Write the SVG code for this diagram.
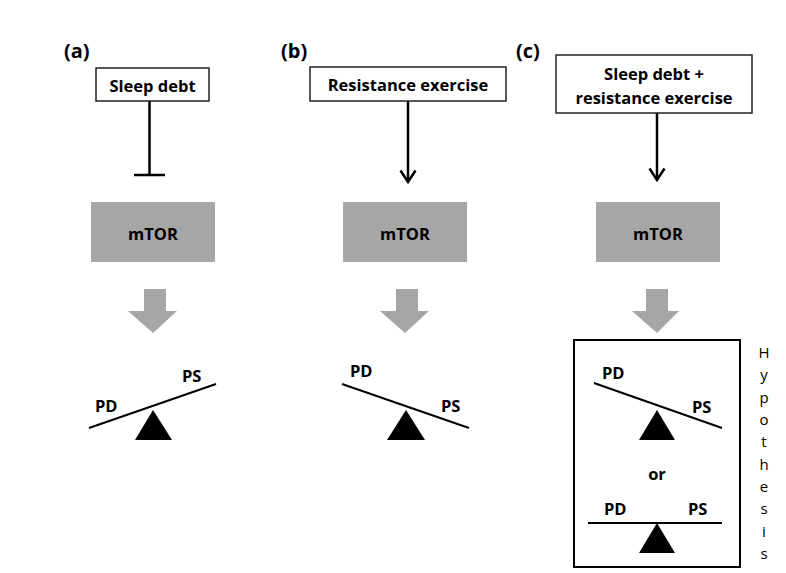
<svg xmlns="http://www.w3.org/2000/svg" width="786" height="573" viewBox="0 0 786 573">
<defs>
<style>
.lbl{font-family:"Open Sans","Liberation Sans",sans-serif;font-weight:bold;fill:#000}
.pl{font-size:20px}
.bx{fill:#fff;stroke:#222;stroke-width:1.5}
.bt{font-size:16.5px;text-anchor:middle}
.mt{fill:#a6a6a6}
.mtt{font-size:16.5px;text-anchor:middle}
.fa{fill:#a6a6a6}
.ln{stroke:#000;stroke-width:2.5;fill:none}
.bm{stroke:#000;stroke-width:2;fill:none}
.tri{fill:#000}
.sl{font-size:16.5px}
.hy{font-family:"Open Sans","Liberation Sans",sans-serif;font-size:15px;text-anchor:middle;fill:#000}
</style>
</defs>
<rect width="786" height="573" fill="#fff"/>
<g id="labels">
<text class="lbl pl" x="64" y="58">(a)</text>
<text class="lbl pl" x="281" y="58">(b)</text>
<text class="lbl pl" x="516" y="58">(c)</text>
</g>
<g id="connectors">
<line class="ln" x1="149.5" y1="101" x2="149.5" y2="175"/>
<line class="ln" x1="134" y1="175" x2="165" y2="175"/>
<line class="ln" x1="408" y1="101" x2="408" y2="182"/>
<polyline class="ln" points="400.5,170.5 408,182 415.5,170.5"/>
<line class="ln" x1="657" y1="113" x2="657" y2="180"/>
<polyline class="ln" points="649.5,168.5 657,180 664.5,168.5"/>
<polygon class="fa" points="144,289 166,289 166,311 177,311 153,333 128,311 144,311"/>
<polygon class="fa" points="396,289 418,289 418,311 429,311 405,333 380,311 396,311"/>
<polygon class="fa" points="646,289 668,289 668,311 679,311 657,333 632,311 646,311"/>
</g>
<g id="node-sleep">
<rect class="bx" x="96" y="68" width="113" height="33"/>
<text class="lbl bt" x="152.5" y="92">Sleep debt</text>
</g>
<g id="node-exercise">
<rect class="bx" x="310" y="67" width="196" height="34"/>
<text class="lbl bt" x="408" y="91">Resistance exercise</text>
</g>
<g id="node-both">
<rect class="bx" x="556" y="55" width="196" height="58"/>
<text class="lbl bt" x="654" y="80">Sleep debt +</text>
<text class="lbl bt" x="654" y="104">resistance exercise</text>
</g>
<g id="mtor-a"><rect class="mt" x="91" y="202" width="124" height="60"/><text class="lbl mtt" x="153" y="240">mTOR</text></g>
<g id="mtor-b"><rect class="mt" x="343" y="202" width="124" height="60"/><text class="lbl mtt" x="405" y="240">mTOR</text></g>
<g id="mtor-c"><rect class="mt" x="596" y="202" width="124" height="60"/><text class="lbl mtt" x="658" y="240">mTOR</text></g>
<g id="balance-a">
<line class="bm" x1="89" y1="428" x2="216" y2="384"/>
<polygon class="tri" points="153,410 172,440 135,440"/>
<text class="lbl sl" x="95" y="412">PD</text>
<text class="lbl sl" x="182" y="382">PS</text>
</g>
<g id="balance-b">
<line class="bm" x1="342" y1="384" x2="469" y2="428"/>
<polygon class="tri" points="406,410 425,440 387,440"/>
<text class="lbl sl" x="350" y="377">PD</text>
<text class="lbl sl" x="441" y="412">PS</text>
</g>
<g id="hypothesis">
<rect x="574" y="340" width="166" height="227" fill="none" stroke="#000" stroke-width="2"/>
<line class="bm" x1="594" y1="383" x2="722" y2="428"/>
<polygon class="tri" points="657,410 675,440 639,440"/>
<text class="lbl sl" x="602" y="379">PD</text>
<text class="lbl sl" x="692" y="413">PS</text>
<text class="lbl sl" x="657" y="480" text-anchor="middle">or</text>
<line class="bm" x1="588" y1="523" x2="722" y2="523"/>
<polygon class="tri" points="657,523 675,553 639,553"/>
<text class="lbl sl" x="604" y="515">PD</text>
<text class="lbl sl" x="688" y="515">PS</text>
</g>
<g id="hypothesis-label">
<text class="hy" x="764" y="358">H</text>
<text class="hy" x="764" y="380">y</text>
<text class="hy" x="764" y="403">p</text>
<text class="hy" x="764" y="425">o</text>
<text class="hy" x="764" y="447">t</text>
<text class="hy" x="764" y="470">h</text>
<text class="hy" x="764" y="492">e</text>
<text class="hy" x="764" y="514">s</text>
<text class="hy" x="764" y="537">i</text>
<text class="hy" x="764" y="559">s</text>
</g>
</svg>
